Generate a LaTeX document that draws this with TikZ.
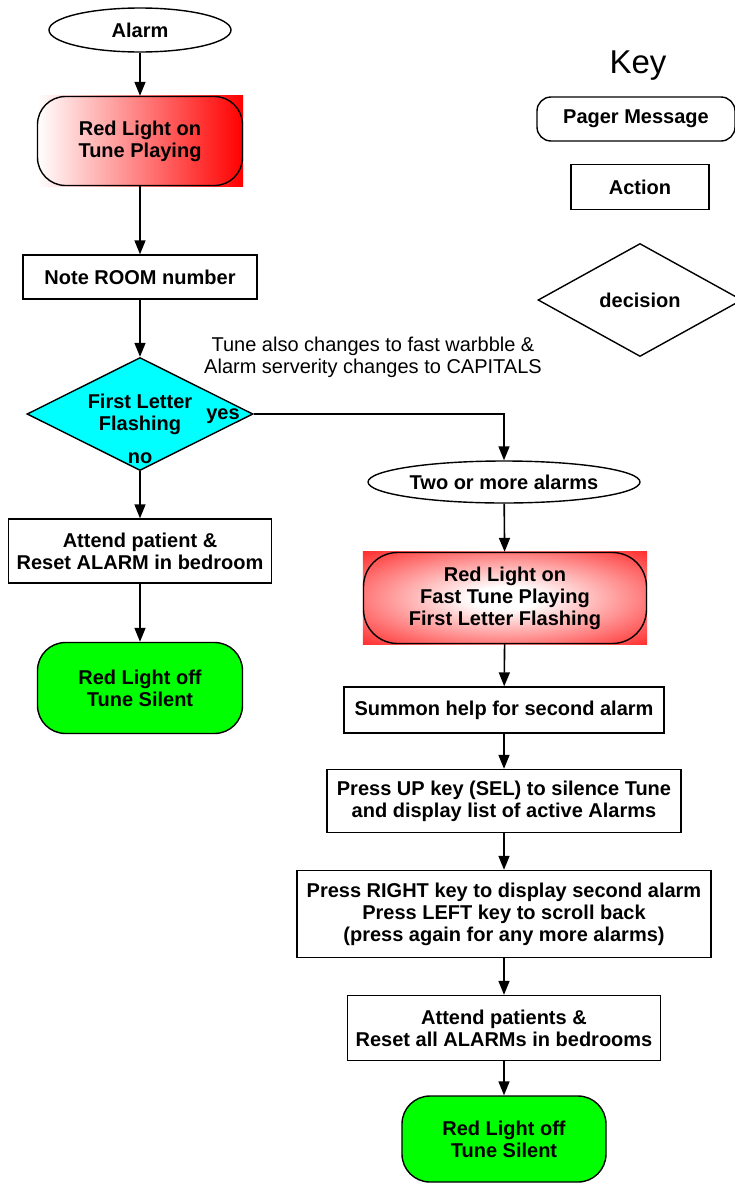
\documentclass[tikz,border=0pt]{standalone}
\usepackage{fontspec}
\setmainfont{Liberation Sans}
\usetikzlibrary{shapes.geometric,arrows.meta,backgrounds}

\definecolor{aqua}{RGB}{0,255,255}
\definecolor{lime}{RGB}{0,255,0}
\definecolor{brightred}{RGB}{255,0,0}
\pgfdeclareradialshading{redglow}{\pgfpoint{0bp}{0bp}}{color(0bp)=(white); color(6bp)=(white); color(42bp)=(brightred); color(80bp)=(brightred)}

\tikzset{
  flowtext/.style={font=\fontsize{20}{22}\selectfont\bfseries, align=center, inner sep=0pt},
  action/.style={flowtext, draw, line width=1.4pt, rectangle},
  pager/.style={flowtext, draw, line width=1.4pt, rounded corners=28pt},
  start/.style={flowtext, draw, line width=1.4pt, ellipse},
  decide/.style={flowtext, draw, line width=1.4pt, diamond, aspect=2},
  arr/.style={line width=1.6pt, -{Triangle[length=14pt,width=11pt]}},
}

\begin{document}
\begin{tikzpicture}[x=1pt, y=-1pt]
    \useasboundingbox (0,0) rectangle (734,1184);

    % Draw the left hand column
    \node[start, minimum width=182pt, minimum height=44pt] (alarm) at (140,30) {Alarm};
    \node[pager, minimum width=205pt, minimum height=89pt] (redon) at (140,141) {Red Light on\\Tune Playing};
    \node[action, minimum width=234pt, minimum height=44pt] (note) at (140,277) {Note ROOM number};
    \node[decide, fill=aqua, minimum width=226pt, minimum height=113pt] (flash) at (140,414) {First Letter\\Flashing};
    \node[flowtext] (yes) at (223,416) {yes};
    \node[flowtext] (no) at (140,458) {no};
    \node[action, minimum width=263pt, minimum height=64pt] (attend) at (140,551) {Attend patient \&\\Reset ALARM in bedroom};
    \node[pager, fill=lime, minimum width=205pt, minimum height=91pt] (off) at (140,688) {Red Light off\\Tune Silent};

    % Draw the note beside the decision
    \node[font=\fontsize{20}{22}\selectfont, align=center, inner sep=0pt] (tune) at (373,357) {Tune also changes to fast warbble \&\\Alarm serverity changes to CAPITALS};

    % Draw the right hand column
    \node[start, minimum width=272pt, minimum height=42pt] (two) at (504,482) {Two or more alarms};
    \node[pager, rounded corners=34pt, minimum width=283pt, minimum height=91pt] (fast) at (505,598) {Red Light on\\Fast Tune Playing\\First Letter Flashing};
    \node[action, minimum width=320pt, minimum height=46pt] (summon) at (504,710) {Summon help for second alarm};
    \node[action, minimum width=354pt, minimum height=63pt] (press) at (504,801) {Press UP key (SEL) to silence Tune\\and display list of active Alarms};
    \node[action, minimum width=414pt, minimum height=87pt] (scroll) at (504,914) {Press RIGHT key to display second alarm\\Press LEFT key to scroll back\\(press again for any more alarms)};
    \node[action, minimum width=313pt, minimum height=65pt] (attendall) at (504,1028) {Attend patients \&\\Reset all ALARMs in bedrooms};
    \node[pager, fill=lime, minimum width=204pt, minimum height=86pt] (offall) at (504,1139) {Red Light off\\Tune Silent};

    % Draw the gradients behind the red messages
    \begin{scope}[on background layer]
        \shade[left color=white, right color=brightred] (redon.south west) rectangle (redon.north east);
        \shade[shading=redglow] (fast.south west) rectangle (fast.north east);
    \end{scope}

    % Draw the key
    \node[font=\fontsize{33}{36}\selectfont, inner sep=0pt] (key) at (638,66) {Key};
    \node[pager, rounded corners=14pt, minimum width=198pt, minimum height=44pt] (keypager) at (636,119) {Pager Message};
    \node[action, minimum width=138pt, minimum height=45pt] (keyaction) at (640,187) {Action};
    \node[decide, minimum width=204pt, minimum height=113pt] (keydecide) at (640,300) {decision};

    % Draw the arrows
    \draw[arr] (alarm) -- (redon);
    \draw[arr] (redon) -- (note);
    \draw[arr] (note) -- (flash);
    \draw[arr] (flash.south) -- (attend);
    \draw[arr] (attend) -- (off);
    \draw[arr] (flash.east) -| (two.north);
    \draw[arr] (two) -- (fast);
    \draw[arr] (fast) -- (summon);
    \draw[arr] (summon) -- (press);
    \draw[arr] (press) -- (scroll);
    \draw[arr] (scroll) -- (attendall);
    \draw[arr] (attendall) -- (offall);
\end{tikzpicture}
\end{document}
